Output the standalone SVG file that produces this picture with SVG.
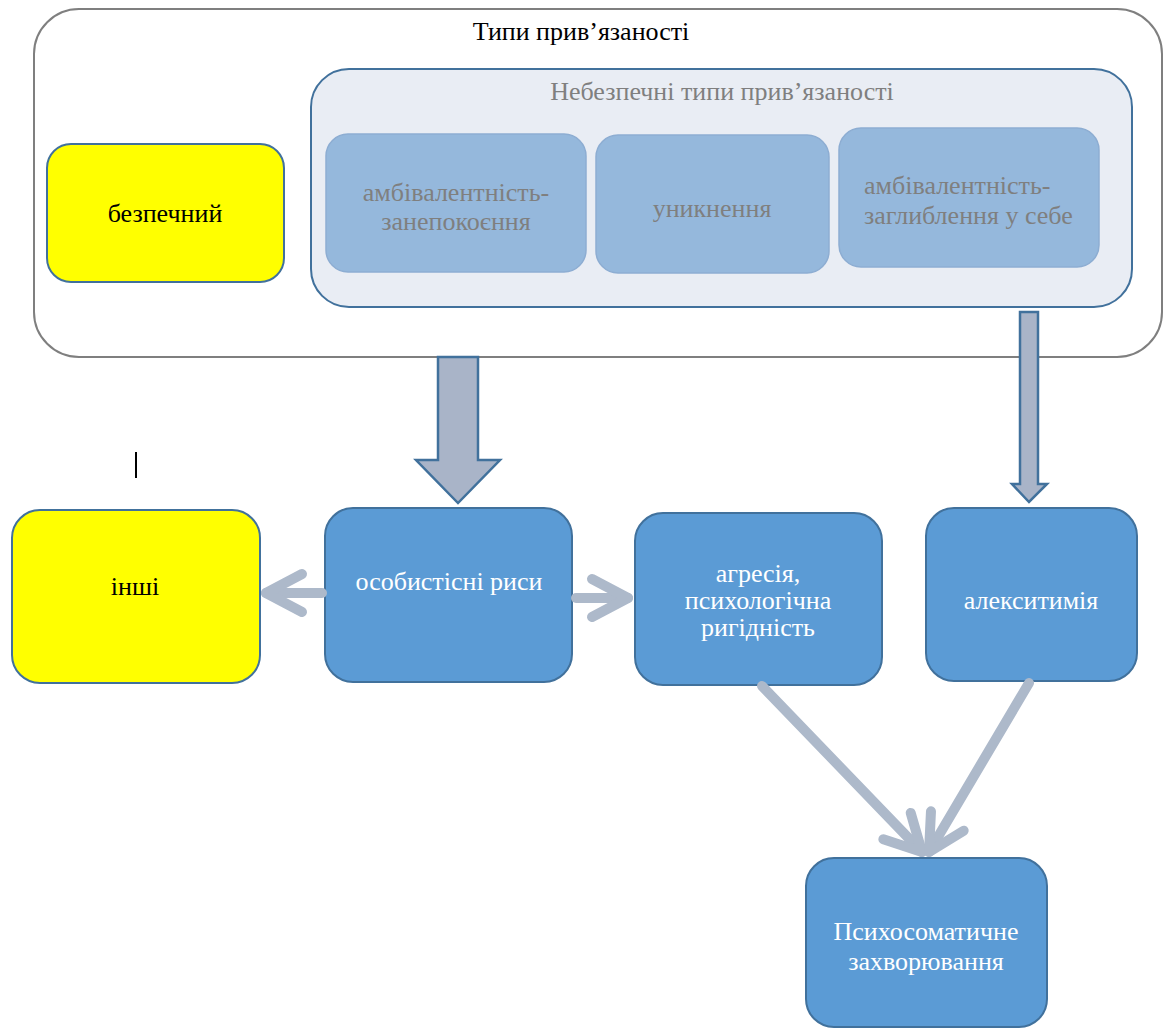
<svg xmlns="http://www.w3.org/2000/svg" width="1165" height="1030" viewBox="0 0 1165 1030">
<style>
text{font-family:"Liberation Serif","Times New Roman",serif;font-size:26px;text-anchor:middle}
.outer{fill:#fff;stroke:#7f7f7f;stroke-width:2}
.inner{fill:#e9edf4;stroke:#41719c;stroke-width:2}
.sub{fill:#95b8dc;stroke:#8dadd2;stroke-width:1.5}
.subt{fill:#7f7f7f}
.yel{fill:#ffff00;stroke:#41719c;stroke-width:2}
.blue{fill:#5b9bd5;stroke:#41719c;stroke-width:2}
.wt{fill:#fff}
.bk{fill:#000}
.fat{fill:#a9b4c8;stroke:#41719c;stroke-width:2.5}
.ln{fill:none;stroke:#adb9ca;stroke-width:10;stroke-linecap:round}
</style>
<defs>
<marker id="chev" viewBox="-5 -3 6 6" markerWidth="6" markerHeight="6" refX="0" refY="0" orient="auto" markerUnits="strokeWidth" overflow="visible">
<path d="M-3.6 -1.9 L0 0 L-3.6 1.9" fill="none" stroke="#adb9ca" stroke-width="1" stroke-linecap="round" stroke-linejoin="round"/>
</marker>
</defs>

<g id="outer-group">
<rect class="outer" x="34" y="9" width="1128" height="348" rx="45"/>
<text class="bk" x="581" y="40">Типи прив’язаності</text>
</g>

<g id="secure">
<rect class="yel" x="47" y="144" width="237" height="138" rx="24"/>
<text class="bk" x="165" y="222">безпечний</text>
</g>

<g id="unsafe-group">
<rect class="inner" x="311" y="69" width="821" height="238" rx="38"/>
<text class="subt" x="722" y="100">Небезпечні типи прив’язаності</text>
</g>

<g id="ambivalence-anxiety">
<rect class="sub" x="326" y="134" width="260" height="138" rx="22"/>
<text class="subt" x="456" y="201">амбівалентність-</text>
<text class="subt" x="456" y="230">занепокоєння</text>
</g>

<g id="avoidance">
<rect class="sub" x="596" y="135" width="233" height="138" rx="22"/>
<text class="subt" x="712" y="217">уникнення</text>
</g>

<g id="ambivalence-withdrawal">
<rect class="sub" x="839" y="128" width="260" height="139" rx="22"/>
<text class="subt" x="864" y="194" style="text-anchor:start">амбівалентність-</text>
<text class="subt" x="864" y="224" style="text-anchor:start">заглиблення у себе</text>
</g>

<g id="others">
<rect class="yel" x="12" y="510" width="248" height="173" rx="28"/>
<text class="bk" x="135" y="595">інші</text>
</g>

<g id="traits">
<rect class="blue" x="325" y="508" width="247" height="174" rx="28"/>
<text class="wt" x="449" y="590">особистісні риси</text>
</g>

<g id="aggression">
<rect class="blue" x="635" y="513" width="247" height="172" rx="28"/>
<text class="wt" x="758" y="582">агресія,</text>
<text class="wt" x="758" y="609">психологічна</text>
<text class="wt" x="758" y="636">ригідність</text>
</g>

<g id="alexithymia">
<rect class="blue" x="926" y="508" width="211" height="173" rx="28"/>
<text class="wt" x="1031" y="609">алекситимія</text>
</g>

<g id="psychosomatic">
<rect class="blue" x="806" y="858" width="241" height="169" rx="28"/>
<text class="wt" x="926" y="940">Психосоматичне</text>
<text class="wt" x="926" y="970">захворювання</text>
</g>

<g id="connectors">
<path class="fat" d="M438 357 L478 357 L478 460 L500 460 L458 503 L416 460 L438 460 Z"/>
<path class="fat" d="M1020 312 L1038 312 L1038 484 L1047 484 L1029 502 L1012 484 L1020 484 Z"/>
<line class="ln" x1="322" y1="593" x2="266" y2="593" marker-end="url(#chev)"/>
<line class="ln" x1="576" y1="598" x2="628" y2="598" marker-end="url(#chev)"/>
<line class="ln" x1="762" y1="686" x2="922" y2="852" marker-end="url(#chev)"/>
<line class="ln" x1="1029" y1="683" x2="929" y2="852" marker-end="url(#chev)"/>
<line x1="136" y1="452" x2="136" y2="478" stroke="#000" stroke-width="2"/>
</g>
</svg>
